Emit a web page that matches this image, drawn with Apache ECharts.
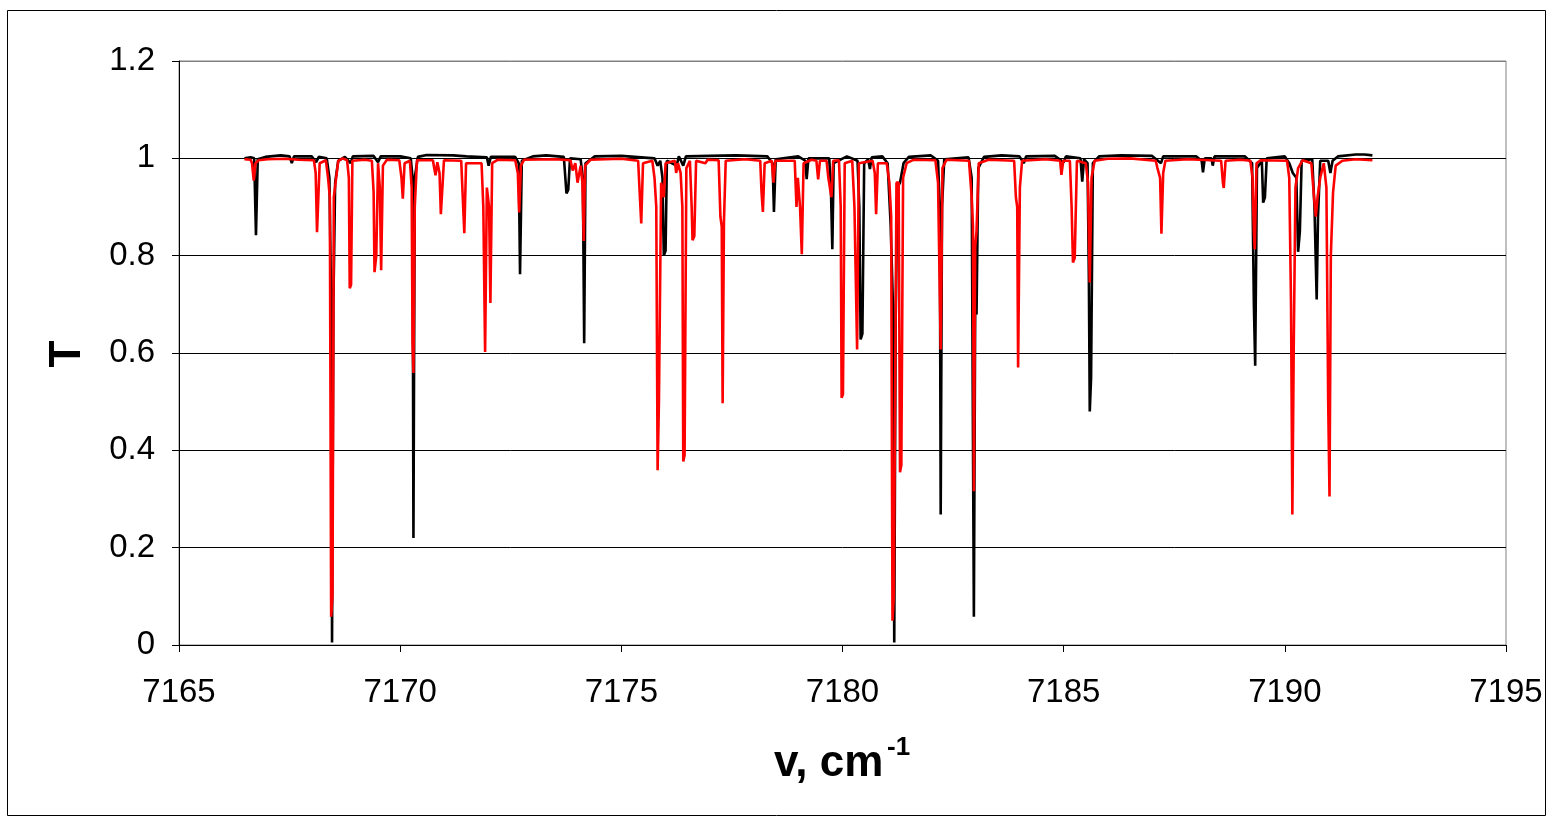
<!DOCTYPE html>
<html>
<head>
<meta charset="utf-8">
<title>T vs wavenumber</title>
<script src="https://cdn.jsdelivr.net/npm/echarts@6/dist/echarts.min.js"></script>
<style>
  html, body { margin: 0; padding: 0; background: #fff; }
  #chart { width: 1550px; height: 819px; }
</style>
</head>
<body>
<div id="chart"></div>
<script>
// Axis ranges and ticks
const xTicks = [7165, 7170, 7175, 7180, 7185, 7190, 7195];
const yTicks = [0, 0.2, 0.4, 0.6, 0.8, 1, 1.2];

// Transmittance spectrum, first trace (black): [wavenumber, T]
const blackTrace = [
  [7166.48,1.000],[7166.62,1.002],[7166.70,1.000],[7166.74,0.842],[7166.78,0.998],[7166.95,1.003],
  [7167.30,1.006],[7167.50,1.004],[7167.55,0.990],[7167.60,1.004],[7168.00,1.004],[7168.10,0.992],
  [7168.16,1.003],[7168.34,1.000],[7168.40,0.960],[7168.44,0.700],[7168.46,0.005],[7168.49,0.700],
  [7168.53,0.950],[7168.60,0.995],[7168.75,1.003],[7168.88,0.990],[7168.93,1.004],[7169.40,1.005],
  [7169.50,0.992],[7169.56,1.004],[7170.00,1.004],[7170.24,1.000],[7170.28,0.960],[7170.30,0.220],
  [7170.33,0.960],[7170.40,1.003],[7170.60,1.007],[7171.20,1.006],[7171.50,1.004],[7171.96,1.002],
  [7172.00,0.985],[7172.05,1.003],[7172.60,1.003],[7172.68,0.990],[7172.71,0.762],[7172.75,0.995],
  [7173.00,1.004],[7173.30,1.006],[7173.70,1.003],[7173.76,0.928],[7173.80,0.935],[7173.84,1.000],
  [7174.08,0.998],[7174.13,0.960],[7174.16,0.620],[7174.19,0.990],[7174.40,1.004],[7175.00,1.005],
  [7175.30,1.003],[7175.75,1.000],[7175.82,0.985],[7175.88,0.995],[7175.93,0.960],[7175.96,0.800],
  [7176.00,0.810],[7176.03,0.995],[7176.25,0.985],[7176.30,1.004],[7176.40,0.985],[7176.46,1.004],
  [7177.00,1.005],[7177.60,1.006],[7178.30,1.004],[7178.42,0.990],[7178.45,0.890],[7178.49,0.998],
  [7179.00,1.004],[7179.16,0.995],[7179.19,0.957],[7179.23,1.000],[7179.70,1.000],[7179.74,0.930],
  [7179.77,0.813],[7179.80,0.990],[7180.10,1.004],[7180.34,0.995],[7180.38,0.900],[7180.41,0.628],
  [7180.45,0.640],[7180.49,0.990],[7180.58,0.998],[7180.62,0.978],[7180.66,1.002],[7180.90,1.004],
  [7181.02,0.990],[7181.09,0.861],[7181.14,0.700],[7181.17,0.005],[7181.20,0.650],[7181.24,0.940],
  [7181.30,0.950],[7181.38,0.990],[7181.50,1.003],[7182.00,1.006],[7182.16,0.995],[7182.20,0.900],
  [7182.22,0.268],[7182.25,0.900],[7182.30,0.998],[7182.85,1.002],[7182.92,0.960],[7182.97,0.058],
  [7183.00,0.700],[7183.03,0.679],[7183.07,0.980],[7183.20,1.003],[7183.60,1.006],[7184.00,1.004],
  [7184.10,0.990],[7184.15,1.004],[7184.80,1.005],[7185.00,0.992],[7185.05,1.004],[7185.38,1.000],
  [7185.42,0.952],[7185.46,0.998],[7185.54,0.990],[7185.57,0.750],[7185.59,0.480],[7185.62,0.550],
  [7185.66,0.990],[7185.80,1.004],[7186.30,1.006],[7187.00,1.005],[7187.20,0.990],[7187.25,1.004],
  [7188.00,1.004],[7188.12,0.995],[7188.15,0.971],[7188.19,1.000],[7188.34,1.000],[7188.37,0.985],
  [7188.41,1.004],[7189.10,1.004],[7189.26,0.990],[7189.30,0.700],[7189.33,0.574],[7189.37,0.980],
  [7189.48,0.995],[7189.51,0.909],[7189.55,0.920],[7189.59,1.000],[7190.00,1.004],[7190.10,0.990],
  [7190.18,0.970],[7190.26,0.960],[7190.30,0.808],[7190.34,0.850],[7190.38,0.995],[7190.62,0.998],
  [7190.67,0.900],[7190.72,0.710],[7190.75,0.880],[7190.80,0.995],[7190.98,0.995],[7191.03,0.970],
  [7191.08,0.995],[7191.20,1.004],[7191.60,1.008],[7191.80,1.008],[7191.98,1.006]
];

// Second trace (red): [wavenumber, T]
const redTrace = [
  [7166.48,0.998],[7166.62,0.997],[7166.65,0.990],[7166.69,0.954],[7166.73,0.990],[7166.80,0.996],
  [7167.00,0.998],[7167.40,0.999],[7167.70,0.997],[7168.05,0.996],[7168.09,0.970],[7168.12,0.848],
  [7168.15,0.850],[7168.18,0.990],[7168.32,0.996],[7168.37,0.960],[7168.41,0.920],[7168.44,0.058],
  [7168.47,0.100],[7168.50,0.920],[7168.54,0.950],[7168.60,0.995],[7168.70,1.000],[7168.80,0.996],
  [7168.84,0.960],[7168.86,0.733],[7168.89,0.740],[7168.92,0.995],[7169.20,0.997],[7169.36,0.995],
  [7169.40,0.930],[7169.42,0.766],[7169.46,0.800],[7169.50,0.990],[7169.54,0.940],[7169.57,0.770],
  [7169.61,0.985],[7169.70,0.997],[7169.98,0.996],[7170.03,0.960],[7170.06,0.917],[7170.10,0.990],
  [7170.22,0.995],[7170.26,0.940],[7170.28,0.620],[7170.30,0.559],[7170.33,0.900],[7170.38,0.996],
  [7170.74,0.996],[7170.77,0.980],[7170.80,0.965],[7170.84,0.992],[7170.89,0.970],[7170.92,0.885],
  [7170.95,0.885],[7170.99,0.996],[7171.38,0.995],[7171.42,0.910],[7171.45,0.846],[7171.49,0.990],
  [7171.84,0.990],[7171.88,0.900],[7171.92,0.602],[7171.96,0.940],[7172.01,0.900],[7172.04,0.703],
  [7172.08,0.990],[7172.20,0.997],[7172.60,0.996],[7172.66,0.970],[7172.69,0.889],[7172.73,0.985],
  [7172.80,0.997],[7173.50,0.998],[7173.85,0.996],[7173.90,0.975],[7173.96,0.990],[7174.01,0.950],
  [7174.04,0.947],[7174.08,0.985],[7174.12,0.950],[7174.15,0.830],[7174.18,0.985],[7174.30,0.997],
  [7175.00,0.999],[7175.38,0.995],[7175.42,0.920],[7175.45,0.866],[7175.49,0.990],[7175.70,0.995],
  [7175.75,0.960],[7175.79,0.900],[7175.82,0.359],[7175.85,0.500],[7175.90,0.950],[7175.96,0.920],
  [7176.00,0.990],[7176.21,0.995],[7176.24,0.970],[7176.28,0.990],[7176.34,0.970],[7176.38,0.900],
  [7176.40,0.377],[7176.43,0.390],[7176.47,0.980],[7176.55,0.995],[7176.59,0.900],[7176.61,0.832],
  [7176.65,0.840],[7176.69,0.995],[7176.90,0.990],[7176.95,0.997],[7177.20,0.996],[7177.24,0.880],
  [7177.27,0.860],[7177.29,0.497],[7177.32,0.870],[7177.36,0.995],[7177.80,0.998],[7178.14,0.995],
  [7178.17,0.930],[7178.20,0.890],[7178.24,0.990],[7178.40,0.995],[7178.44,0.950],[7178.48,0.995],
  [7178.92,0.995],[7178.96,0.900],[7178.99,0.960],[7179.04,0.900],[7179.08,0.803],[7179.12,0.990],
  [7179.30,0.997],[7179.41,0.995],[7179.45,0.957],[7179.49,0.995],[7179.64,0.995],[7179.68,0.960],
  [7179.72,0.960],[7179.75,0.920],[7179.79,0.995],[7179.92,0.996],[7179.96,0.900],[7179.98,0.508],
  [7180.01,0.515],[7180.05,0.990],[7180.22,0.995],[7180.27,0.900],[7180.33,0.607],[7180.37,0.990],
  [7180.68,0.995],[7180.73,0.970],[7180.76,0.885],[7180.80,0.990],[7181.00,0.990],[7181.06,0.950],
  [7181.10,0.880],[7181.13,0.050],[7181.16,0.100],[7181.22,0.950],[7181.27,0.950],[7181.30,0.355],
  [7181.33,0.370],[7181.37,0.960],[7181.45,0.990],[7181.60,0.997],[7182.10,0.996],[7182.16,0.950],
  [7182.20,0.720],[7182.22,0.607],[7182.26,0.980],[7182.35,0.997],[7182.86,0.995],[7182.92,0.920],
  [7182.95,0.860],[7182.97,0.316],[7183.00,0.820],[7183.03,0.850],[7183.08,0.990],[7183.30,0.997],
  [7183.88,0.995],[7183.92,0.920],[7183.95,0.900],[7183.97,0.570],[7184.01,0.940],[7184.06,0.995],
  [7184.60,0.998],[7184.92,0.995],[7184.95,0.966],[7184.99,0.995],[7185.14,0.995],[7185.18,0.900],
  [7185.21,0.786],[7185.25,0.795],[7185.30,0.995],[7185.50,0.990],[7185.55,0.950],[7185.59,0.745],
  [7185.63,0.960],[7185.70,0.995],[7186.00,0.999],[7186.50,1.000],[7187.08,0.995],[7187.12,0.980],
  [7187.18,0.960],[7187.21,0.845],[7187.25,0.970],[7187.30,0.995],[7187.80,0.998],[7188.56,0.995],
  [7188.60,0.950],[7188.62,0.939],[7188.66,0.995],[7189.00,0.997],[7189.22,0.995],[7189.27,0.960],
  [7189.30,0.850],[7189.32,0.813],[7189.36,0.990],[7189.45,0.996],[7190.05,0.995],[7190.10,0.960],
  [7190.14,0.700],[7190.17,0.268],[7190.20,0.600],[7190.24,0.940],[7190.30,0.980],[7190.40,0.996],
  [7190.60,0.990],[7190.66,0.920],[7190.70,0.880],[7190.74,0.920],[7190.80,0.960],[7190.88,0.990],
  [7190.94,0.940],[7190.98,0.500],[7191.01,0.305],[7191.04,0.800],[7191.09,0.930],[7191.15,0.985],
  [7191.30,0.995],[7191.60,0.998],[7191.98,0.996]
];

const FONT = '"Liberation Sans", Arial, sans-serif';

// Plain tick text without thousands separators
function tickText(ticks, v) {
  const i = ticks.findIndex(t => Math.abs(t - v) < 1e-6);
  return i >= 0 ? String(ticks[i]) : '';
}

const chart = echarts.init(document.getElementById('chart'), null, { renderer: 'canvas' });

chart.setOption({
  backgroundColor: '#ffffff',
  animation: false,
  grid: {
    left: 179, top: 61, right: 44, bottom: 174,
    show: true, borderColor: '#808080', borderWidth: 1, backgroundColor: 'transparent'
  },
  xAxis: {
    type: 'value',
    min: xTicks[0], max: xTicks[xTicks.length - 1], interval: 5,
    axisLine: { show: true, onZero: false, lineStyle: { color: '#000', width: 1 } },
    axisTick: { show: true, inside: false, length: 7, lineStyle: { color: '#000' } },
    axisLabel: {
      color: '#000', fontFamily: FONT, fontSize: 33, margin: 31,
      formatter: v => tickText(xTicks, v)
    },
    splitLine: { show: false }
  },
  yAxis: {
    type: 'value',
    min: yTicks[0], max: yTicks[yTicks.length - 1], interval: 0.2,
    axisLine: { show: true, lineStyle: { color: '#000', width: 1 } },
    axisTick: { show: true, inside: false, length: 7, lineStyle: { color: '#000' } },
    axisLabel: {
      color: '#000', fontFamily: FONT, fontSize: 33, margin: 24,
      formatter: v => tickText(yTicks, v)
    },
    splitLine: {
      show: true,
      lineStyle: { color: ['#000', '#000', '#000', '#000', '#000', '#000', '#808080'], width: 1 }
    }
  },
  series: [
    {
      type: 'line', data: blackTrace, showSymbol: false, symbol: 'none',
      lineStyle: { color: '#000000', width: 2.6 }, z: 2
    },
    {
      type: 'line', data: redTrace, showSymbol: false, symbol: 'none',
      lineStyle: { color: '#ff0000', width: 2.6 }, z: 3
    }
  ],
  graphic: [
    {
      type: 'rect', silent: true,
      shape: { x: 7.5, y: 10.5, width: 1538, height: 805 },
      style: { fill: 'none', stroke: '#000', lineWidth: 1 }
    },
    {
      type: 'text', silent: true, x: 68, y: 354, rotation: Math.PI / 2,
      style: {
        text: 'T', fill: '#000', font: 'bold 44px ' + FONT,
        align: 'center', verticalAlign: 'middle'
      }
    },
    {
      type: 'text', silent: true, x: 774, y: 764,
      style: {
        text: 'v, cm', fill: '#000', font: 'bold 44px ' + FONT,
        align: 'left', verticalAlign: 'middle'
      }
    },
    {
      type: 'text', silent: true, x: 887, y: 748,
      style: {
        text: '-1', fill: '#000', font: 'bold 26px ' + FONT,
        align: 'left', verticalAlign: 'middle'
      }
    }
  ]
});
</script>
</body>
</html>
